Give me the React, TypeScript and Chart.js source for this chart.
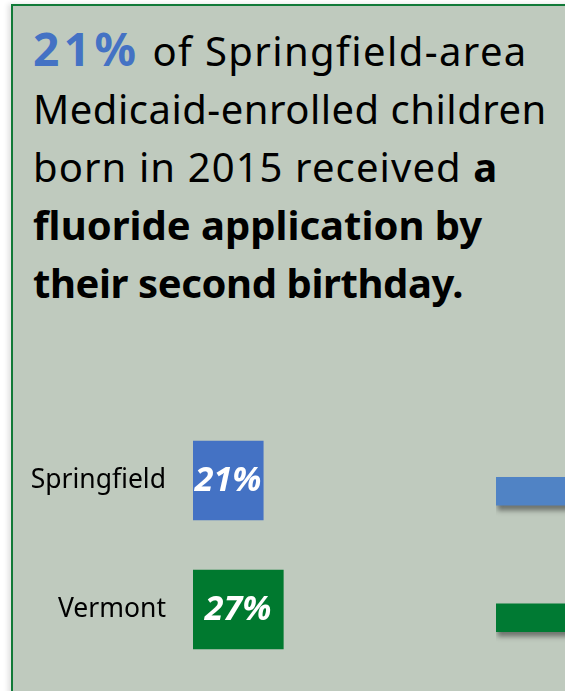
import React, { useEffect, useRef } from "react";
import { Chart, registerables } from "chart.js";

Chart.register(...registerables);

const categories = ["Springfield", "Vermont"];
const rates = [21, 27];
const barColors = ["#4472c4", "#00792f"];
const sideValues = [40, 40];
const sideColors = ["#5083c5", "#007a33"];

const FONT = "'Noto Sans', sans-serif";

const valueLabelPlugin = {
  id: "valueLabels",
  afterDatasetsDraw(chart: any) {
    const ctx = chart.ctx;
    const meta = chart.getDatasetMeta(0);
    ctx.save();
    ctx.fillStyle = "#ffffff";
    ctx.font = `italic bold 34px ${FONT}`;
    ctx.textAlign = "center";
    ctx.textBaseline = "middle";
    meta.data.forEach((bar: any, i: number) => {
      const v = chart.data.datasets[0].data[i];
      const cx = (bar.x + bar.base) / 2;
      ctx.fillText(`${v}%`, cx, bar.y + 1);
    });
    ctx.restore();
  },
};

const shadowPlugin = {
  id: "barShadow",
  beforeDatasetsDraw(chart: any) {
    const ctx = chart.ctx;
    ctx.save();
    ctx.shadowColor = "rgba(40,40,40,0.55)";
    ctx.shadowBlur = 5;
    ctx.shadowOffsetX = 1;
    ctx.shadowOffsetY = 5;
  },
  afterDatasetsDraw(chart: any) {
    chart.ctx.restore();
  },
};

export default function App() {
  const mainRef = useRef<HTMLCanvasElement>(null);
  const sideRef = useRef<HTMLCanvasElement>(null);

  useEffect(() => {
    const main = new Chart(mainRef.current!, {
      type: "bar",
      data: {
        labels: categories,
        datasets: [
          {
            data: rates,
            backgroundColor: barColors,
            borderWidth: 0,
            barThickness: 79,
          },
        ],
      },
      options: {
        indexAxis: "y",
        animation: false,
        responsive: false,
        maintainAspectRatio: false,
        layout: { padding: { left: 0, right: 5, top: 0, bottom: 0 } },
        plugins: { legend: { display: false }, tooltip: { enabled: false } },
        scales: {
          x: { display: false, min: 0, max: 30.5 },
          y: {
            grid: { display: false, drawTicks: false },
            border: { display: false },
            ticks: {
              color: "#000",
              font: { family: FONT, size: 26.5 },
              padding: 27,
            },
            afterFit(scale: any) {
              scale.width = 193;
              scale.paddingTop = 0;
              scale.paddingBottom = 0;
            },
          },
        },
      } as any,
      plugins: [valueLabelPlugin],
    });

    const side = new Chart(sideRef.current!, {
      type: "bar",
      data: {
        labels: categories,
        datasets: [
          {
            data: sideValues,
            backgroundColor: sideColors,
            borderWidth: 0,
            barThickness: 28,
          },
        ],
      },
      options: {
        indexAxis: "y",
        animation: false,
        responsive: false,
        maintainAspectRatio: false,
        layout: { padding: 0 },
        plugins: { legend: { display: false }, tooltip: { enabled: false } },
        scales: {
          x: { display: false, min: 0, max: 40 },
          y: { display: false },
        },
      } as any,
      plugins: [shadowPlugin],
    });

    return () => {
      main.destroy();
      side.destroy();
    };
  }, []);

  return (
    <div
      style={{
        position: "fixed",
        left: 0,
        top: 0,
        width: 565,
        height: 691,
        overflow: "hidden",
        background: "#ffffff",
      }}
    >
      <div
        style={{
          position: "absolute",
          left: 11,
          top: 4,
          width: 700,
          height: 800,
          background: "#bfcabe",
          borderLeft: "2px solid #117a38",
          borderTop: "2px solid #117a38",
          boxShadow: "-3px 0 5px rgba(0,0,0,0.12)",
        }}
      />
      <div
        style={{
          position: "absolute",
          left: 33,
          top: 19,
          width: 540,
          fontFamily: FONT,
          fontSize: 40,
          lineHeight: "58px",
          color: "#000",
          whiteSpace: "nowrap",
        }}
      >
        <div>
          <span style={{ color: "#4472c4", fontWeight: 700, fontSize: 46, letterSpacing: 4.5 }}>21%</span>
          <span style={{ letterSpacing: 1.4 }}> of Springfield-area</span>
        </div>
        <div style={{ letterSpacing: 0.5 }}>Medicaid-enrolled children</div>
        <div>
          <span style={{ letterSpacing: 1.1 }}>born in 2015 received </span>
          <b>a</b>
        </div>
        <div style={{ fontWeight: 700 }}>fluoride application by</div>
        <div style={{ fontWeight: 700, letterSpacing: -0.4 }}>their second birthday.</div>
      </div>
      <canvas
        ref={mainRef}
        width={300}
        height={258}
        style={{ position: "absolute", left: 0, top: 416, width: 300, height: 258 }}
      />
      <canvas
        ref={sideRef}
        width={300}
        height={253}
        style={{ position: "absolute", left: 496, top: 428, width: 300, height: 253 }}
      />
    </div>
  );
}
